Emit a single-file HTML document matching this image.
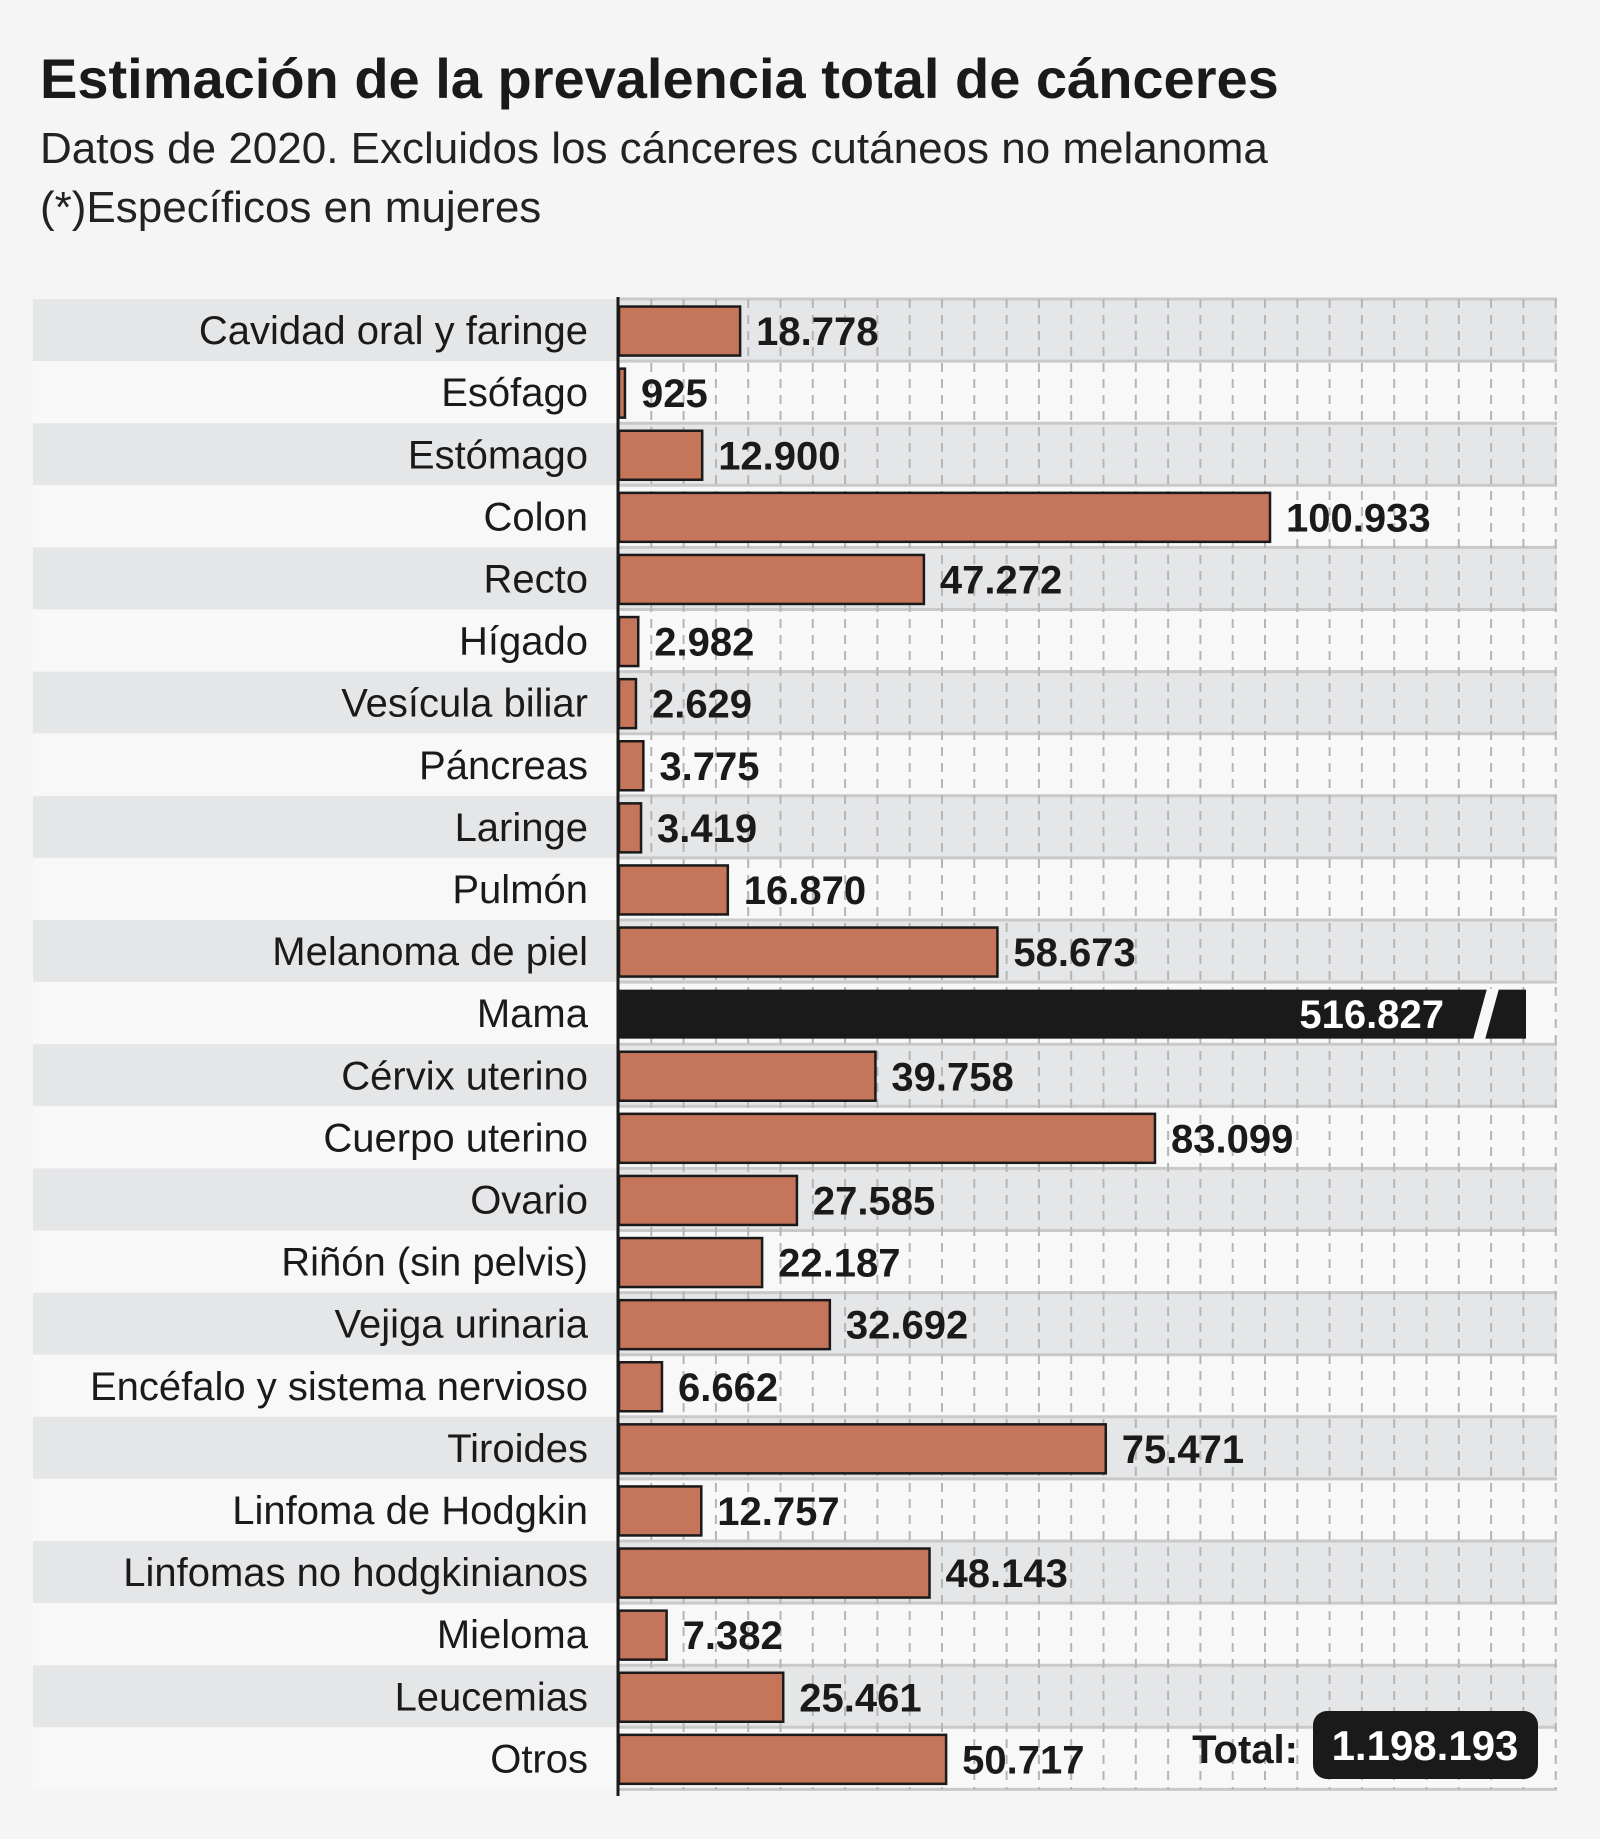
<!DOCTYPE html>
<html><head><meta charset="utf-8"><style>
body{margin:0;background:#f5f5f5;}
svg{display:block;font-family:"Liberation Sans",sans-serif;}
</style></head><body>
<svg id="chart" width="1600" height="1839" viewBox="0 0 1600 1839" xmlns="http://www.w3.org/2000/svg">
<rect width="1600" height="1839" fill="#f5f5f5"/>
<text x="40" y="98" font-size="56" font-weight="bold" fill="#1a1a1a">Estimación de la prevalencia total de cánceres</text>
<text x="40" y="163" font-size="44" fill="#222">Datos de 2020. Excluidos los cánceres cutáneos no melanoma</text>
<text x="40" y="222" font-size="44" fill="#222">(*)Específicos en mujeres</text>
<g id="rows"></g><g id="grid"></g><g id="bars"></g>
<line x1="618" y1="297" x2="618" y2="1796" stroke="#1a1a1a" stroke-width="3"/>
<text x="1298" y="1763" font-size="40" font-weight="bold" fill="#1a1a1a" text-anchor="end">Total:</text>
<rect x="1313" y="1711" width="225" height="68" rx="14" fill="#1a1a1a"/>
<text x="1425" y="1760" font-size="42" font-weight="bold" fill="#fff" text-anchor="middle">1.198.193</text>
</svg>
<script>
const categories=["Cavidad oral y faringe","Esófago","Estómago","Colon","Recto","Hígado","Vesícula biliar","Páncreas","Laringe","Pulmón","Melanoma de piel","Mama","Cérvix uterino","Cuerpo uterino","Ovario","Riñón (sin pelvis)","Vejiga urinaria","Encéfalo y sistema nervioso","Tiroides","Linfoma de Hodgkin","Linfomas no hodgkinianos","Mieloma","Leucemias","Otros"];
const values=[18778,925,12900,100933,47272,2982,2629,3775,3419,16870,58673,516827,39758,83099,27585,22187,32692,6662,75471,12757,48143,7382,25461,50717];
const valueLabels=["18.778","925","12.900","100.933","47.272","2.982","2.629","3.775","3.419","16.870","58.673","516.827","39.758","83.099","27.585","22.187","32.692","6.662","75.471","12.757","48.143","7.382","25.461","50.717"];
const NS="http://www.w3.org/2000/svg";
const X0=619,XMAX=1526,TOP=299,RH=62.1,BH=49,LEFT=33,RIGHT=1557,SCALE=651/100933;
function x(v){return Math.min(X0+v*SCALE,XMAX);}
function y(i){return TOP+i*RH;}
function mk(tag,attrs,parent){const e=document.createElementNS(NS,tag);for(const k in attrs)e.setAttribute(k,attrs[k]);parent.appendChild(e);return e;}
const rows=document.getElementById('rows'),grid=document.getElementById('grid'),bars=document.getElementById('bars');
categories.forEach((c,i)=>{
  const r=mk('rect',{x:LEFT,y:y(i),width:RIGHT-LEFT,height:RH,fill:i%2===0?'#e5e6e8':'#f8f8f8'},rows);
  
  
  const ln=mk('line',{x1:X0,x2:RIGHT,y1:y(i),y2:y(i),stroke:'#c9c9c9','stroke-width':3},rows);
  
  
});
const bl=mk('line',{x1:X0,x2:RIGHT,y1:y(categories.length),y2:y(categories.length),stroke:'#c9c9c9','stroke-width':3},rows);


for(let gx=X0+32.3;gx<=RIGHT+1;gx+=32.3){
  const g=mk('line',{x1:gx,x2:gx,y1:TOP,y2:y(categories.length),stroke:'#b5b5b5','stroke-width':2,'stroke-dasharray':'9 7'},grid);
  
  
}
categories.forEach((c,i)=>{
  const cy=y(i)+RH/2;
  const t=mk('text',{x:588,y:cy+14,'font-size':40,'text-anchor':'end',fill:'#1a1a1a'},bars);
  t.textContent=c;
  
  
  const v=values[i],xe=x(v),by=cy-BH/2+1;
  if(v*SCALE>XMAX-X0){
    const b=mk('rect',{x:X0,y:by,width:xe-X0,height:BH,fill:'#1a1a1a'},bars);
    
    
    const s=mk('polygon',{points:`${xe-53},${by+BH+1} ${xe-41},${by+BH+1} ${xe-27},${by-1} ${xe-39},${by-1}`,fill:'#f8f8f8'},bars);
    
    
    const vt=mk('text',{x:xe-82,y:cy+15,'font-size':40,'font-weight':'bold',fill:'#fff','text-anchor':'end'},bars);
    vt.textContent=valueLabels[i];
    
    
  } else {
    const b=mk('rect',{x:X0,y:by,width:Math.max(xe-X0,2),height:BH,fill:'#c4755a',stroke:'#1a1a1a','stroke-width':2.5},bars);
    
    
    const vt=mk('text',{x:xe+16,y:cy+15,'font-size':40,'font-weight':'bold',fill:'#1a1a1a'},bars);
    vt.textContent=valueLabels[i];
    
    
  }
});
</script>
</body></html>
